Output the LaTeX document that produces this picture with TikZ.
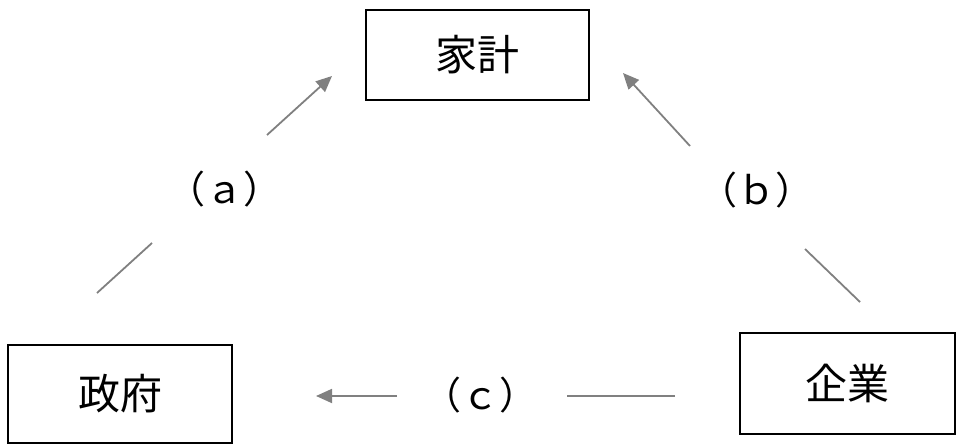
\documentclass[tikz,border=0pt]{standalone}
\usepackage{fontspec}
\setmainfont{Noto Sans CJK JP}
\usetikzlibrary{arrows.meta}
\begin{document}
\begin{tikzpicture}[x=0.5pt,y=-0.5pt,
  box/.style={draw=black,line width=0.75pt,minimum width=#1,inner sep=0pt,font=\fontsize{21pt}{21pt}\selectfont},
  lbl/.style={inner sep=0pt,font=\fontsize{19pt}{19pt}\selectfont},
  conn/.style={draw=black!50,line width=0.9pt},
  arr/.style={conn,-{Triangle[length=8pt,width=7pt]}}]
\useasboundingbox (0,0) rectangle (956,444);
\node[box=111.5pt,minimum height=45pt] (hh) at (477.5,55) {家計};
\node[box=112pt,minimum height=49pt] (gov) at (120,394) {政府};
\node[box=107.5pt,minimum height=50.5pt] (firm) at (847.5,383.5) {企業};
\node[lbl] (la) at (224,189) {（ａ）};
\node[lbl] (lb) at (756,190) {（ｂ）};
\node[lbl] (lc) at (480,395) {（ｃ）};
\coordinate (a1) at (97,293);
\coordinate (a2) at (152,243);
\coordinate (a3) at (267,135);
\coordinate (a4) at (332,76);
\coordinate (b1) at (860,302);
\coordinate (b2) at (805,249);
\coordinate (b3) at (690,146);
\coordinate (b4) at (623,73);
\coordinate (c1) at (675,396);
\coordinate (c2) at (567,396);
\coordinate (c3) at (397,396);
\coordinate (c4) at (316,396);
\draw[conn] (a1) -- (a2);
\draw[arr] (a3) -- (a4);
\draw[conn] (b1) -- (b2);
\draw[arr] (b3) -- (b4);
\draw[conn] (c1) -- (c2);
\draw[arr] (c3) -- (c4);
\end{tikzpicture}
\end{document}
